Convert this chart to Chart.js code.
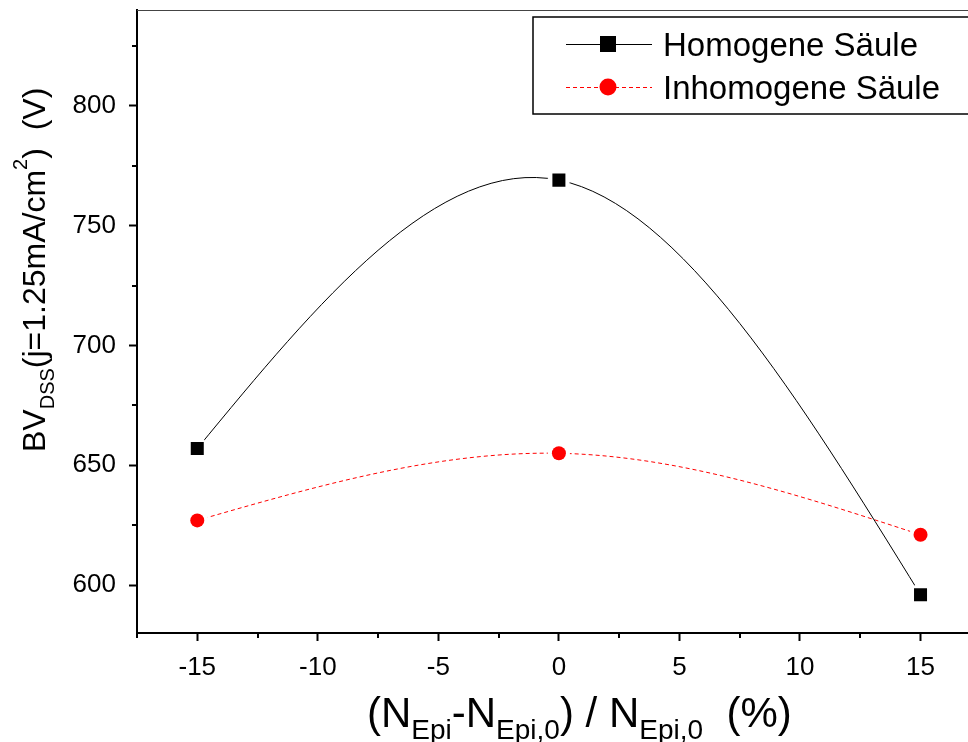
<!DOCTYPE html>
<html>
<head>
<meta charset="utf-8">
<script src="https://cdn.jsdelivr.net/npm/chart.js@4.4.1/dist/chart.umd.min.js"></script>
<style>
  html, body { margin: 0; padding: 0; background: #fff; overflow: hidden; }
  #wrap { width: 990px; height: 742px; }
</style>
</head>
<body>
<div id="wrap"><canvas id="chart" width="990" height="742"></canvas></div>
<script>
const xValues = [-15, 0, 15];
const homogen = [657, 769, 596];
const inhomogen = [627, 655, 621];
const xTicks = [-15, -10, -5, 0, 5, 10, 15];
const xMinorTicks = [-17.5, -12.5, -7.5, -2.5, 2.5, 7.5, 12.5, 17.5];
const yTicks = [600, 650, 700, 750, 800];
const yMinorTicks = [625, 675, 725, 775, 825];
const seriesNames = ["Homogene Säule", "Inhomogene Säule"];

const FONT = '"Liberation Sans", Arial, sans-serif';
const toXY = (ys) => xValues.map((x, i) => ({ x: x, y: ys[i] }));

// natural cubic spline (like Origin's spline connector), written into the
// bezier control points of the line element
function setSplineControlPoints(points) {
  const n = points.length;
  if (n < 3) return;
  const h = [];
  const m = new Array(n).fill(0);
  for (let i = 0; i < n - 1; i++) h.push(points[i + 1].x - points[i].x);
  const a = [], b = [], c = [], d = [];
  for (let i = 1; i < n - 1; i++) {
    a.push(h[i - 1]);
    b.push(2 * (h[i - 1] + h[i]));
    c.push(h[i]);
    d.push(6 * ((points[i + 1].y - points[i].y) / h[i] - (points[i].y - points[i - 1].y) / h[i - 1]));
  }
  const k = b.length;
  for (let i = 1; i < k; i++) {
    const w = a[i] / b[i - 1];
    b[i] -= w * c[i - 1];
    d[i] -= w * d[i - 1];
  }
  const sol = new Array(k);
  sol[k - 1] = d[k - 1] / b[k - 1];
  for (let i = k - 2; i >= 0; i--) sol[i] = (d[i] - c[i] * sol[i + 1]) / b[i];
  for (let i = 0; i < k; i++) m[i + 1] = sol[i];
  for (let i = 0; i < n - 1; i++) {
    const p = points[i], q = points[i + 1], hi = h[i];
    const dy = (q.y - p.y) / hi;
    const s0 = dy - hi * (2 * m[i] + m[i + 1]) / 6;
    const s1 = dy + hi * (m[i] + 2 * m[i + 1]) / 6;
    p.cp2x = p.x + hi / 3;
    p.cp2y = p.y + s0 * hi / 3;
    q.cp1x = q.x - hi / 3;
    q.cp1y = q.y - s1 * hi / 3;
  }
  points[0].cp1x = points[0].x; points[0].cp1y = points[0].y;
  points[n - 1].cp2x = points[n - 1].x; points[n - 1].cp2y = points[n - 1].y;
}

// text runs with sub/superscripts, optionally rotated
function drawRich(ctx, parts, x, y, rotate) {
  ctx.save();
  ctx.translate(x, y);
  if (rotate) ctx.rotate(-Math.PI / 2);
  ctx.fillStyle = "#000";
  ctx.textBaseline = "alphabetic";
  ctx.textAlign = "left";
  let cx = 0;
  parts.forEach((p) => {
    ctx.font = p.size + "px " + FONT;
    ctx.fillText(p.t, cx, p.dy || 0);
    cx += ctx.measureText(p.t).width;
  });
  ctx.restore();
}

const originLook = {
  id: "originLook",
  beforeDatasetDraw(chart, args) {
    const ds = chart.data.datasets[args.index];
    const meta = args.meta;
    const ctx = chart.ctx;
    if (ds.spline) {
      setSplineControlPoints(meta.data);
      meta.dataset._pointsUpdated = true;
      meta.dataset._path = undefined;
    }
    if (ds.halo) {
      ctx.save();
      ctx.fillStyle = "#fff";
      meta.data.forEach((p) => {
        ctx.beginPath();
        ctx.arc(p.x, p.y, ds.halo, 0, 2 * Math.PI);
        ctx.fill();
      });
      ctx.restore();
    }
  },
  afterDraw(chart) {
    const ctx = chart.ctx;
    const xs = chart.scales.x, ys = chart.scales.y;
    const area = chart.chartArea;
    ctx.save();
    // frame top / right
    ctx.strokeStyle = "#444";
    ctx.lineWidth = 1;
    ctx.beginPath();
    ctx.moveTo(area.left, area.top + 0.5);
    ctx.lineTo(area.right, area.top + 0.5);
    ctx.lineTo(area.right, area.bottom);
    ctx.stroke();
    // minor ticks
    ctx.strokeStyle = "#000";
    ctx.lineWidth = 2;
    ctx.beginPath();
    xMinorTicks.forEach((v) => {
      const px = Math.round(xs.getPixelForValue(v));
      ctx.moveTo(px, area.bottom);
      ctx.lineTo(px, area.bottom + 5);
    });
    yMinorTicks.forEach((v) => {
      const py = Math.round(ys.getPixelForValue(v));
      ctx.moveTo(area.left, py);
      ctx.lineTo(area.left - 5, py);
    });
    ctx.stroke();

    // legend
    const lx = 533, ly = 17;
    ctx.lineWidth = 1.5;
    ctx.strokeStyle = "#000";
    ctx.strokeRect(lx, ly, 480, 97);
    const rows = [44, 87];
    const dsets = chart.data.datasets;
    [0, 1].forEach((i) => {
      const line = dsets[i];
      const y = rows[i];
      ctx.save();
      ctx.strokeStyle = line.borderColor;
      ctx.lineWidth = 1;
      ctx.setLineDash(line.borderDash || []);
      ctx.beginPath();
      ctx.moveTo(566, y + 0.5);
      ctx.lineTo(652, y + 0.5);
      ctx.stroke();
      ctx.restore();
      ctx.fillStyle = line.borderColor;
      if (i === 0) {
        ctx.fillRect(600, y - 8, 16, 16);
      } else {
        ctx.beginPath();
        ctx.arc(608, y, 8.5, 0, 2 * Math.PI);
        ctx.fill();
      }
      ctx.fillStyle = "#000";
      ctx.font = "33px " + FONT;
      ctx.textBaseline = "alphabetic";
      ctx.textAlign = "left";
      ctx.fillText(seriesNames[i], 663, y + 12);
    });

    // axis titles
    drawRich(ctx, [
      { t: "(", size: 42 }, { t: "N", size: 42 }, { t: "Epi", size: 28, dy: 12 },
      { t: "-", size: 42 }, { t: "N", size: 42 }, { t: "Epi,0", size: 28, dy: 12 },
      { t: ") / ", size: 42 }, { t: "N", size: 42 }, { t: "Epi,0", size: 28, dy: 12 },
      { t: "  (%)", size: 42 }
    ], 367, 727, false);
    drawRich(ctx, [
      { t: "BV", size: 32 }, { t: "DSS", size: 20, dy: 9 },
      { t: "(j=1.25mA/cm", size: 32 }, { t: "2", size: 20, dy: -18 },
      { t: ")  (V)", size: 32 }
    ], 45, 452, true);
    ctx.restore();
  }
};

const noPad = (s) => {
  s.paddingTop = 0; s.paddingBottom = 0; s.paddingLeft = 0; s.paddingRight = 0;
};

new Chart(document.getElementById("chart"), {
  type: "line",
  data: {
    datasets: [
      {
        label: seriesNames[0],
        data: toXY(homogen),
        borderColor: "#000",
        borderWidth: 1,
        tension: 0.4,
        spline: true,
        pointRadius: 0,
        order: 3,
      },
      {
        label: seriesNames[1],
        data: toXY(inhomogen),
        borderColor: "#ff0000",
        borderWidth: 1,
        borderDash: [4, 3],
        tension: 0.4,
        spline: true,
        pointRadius: 0,
        order: 3,
      },
      {
        label: seriesNames[0],
        data: toXY(homogen),
        showLine: false,
        halo: 11,
        pointStyle: "rect",
        pointRadius: 9.2,
        pointBackgroundColor: "#000",
        pointBorderWidth: 0,
        order: 1,
      },
      {
        label: seriesNames[1],
        data: toXY(inhomogen),
        showLine: false,
        halo: 11,
        pointStyle: "circle",
        pointRadius: 7,
        pointBackgroundColor: "#ff0000",
        pointBorderWidth: 0,
        order: 1,
      },
    ],
  },
  options: {
    responsive: false,
    animation: false,
    events: [],
    layout: { padding: { left: 0, right: 9, top: 10, bottom: 0 } },
    plugins: { legend: { display: false }, tooltip: { enabled: false } },
    scales: {
      x: {
        type: "linear",
        min: -17.5,
        max: 17.5,
        afterBuildTicks: (s) => { s.ticks = xTicks.map((v) => ({ value: v })); },
        afterFit: (s) => { s.height = 109; noPad(s); },
        grid: { drawOnChartArea: false, drawTicks: true, tickLength: 8, tickWidth: 2, tickColor: "#000" },
        border: { display: true, color: "#000", width: 2 },
        ticks: { color: "#000", font: { family: FONT, size: 26 }, padding: 11, maxRotation: 0 },
      },
      y: {
        type: "linear",
        min: 580,
        max: 840,
        afterBuildTicks: (s) => { s.ticks = yTicks.map((v) => ({ value: v })); },
        afterFit: (s) => { s.width = 137; noPad(s); },
        grid: { drawOnChartArea: false, drawTicks: true, tickLength: 8, tickWidth: 2, tickColor: "#000" },
        border: { display: true, color: "#000", width: 2 },
        ticks: { color: "#000", font: { family: FONT, size: 26 }, padding: 13 },
      },
    },
  },
  plugins: [originLook],
});
</script>
</body>
</html>
